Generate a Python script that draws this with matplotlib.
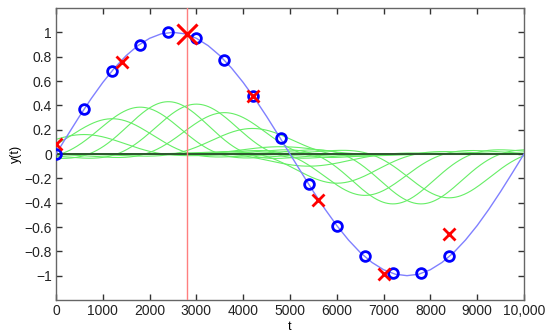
import numpy as np
import matplotlib
matplotlib.use('Agg')
import matplotlib.pyplot as plt

plt.rcParams['font.family'] = ['Liberation Sans', 'DejaVu Sans']

# smooth underlying signal, read every 250
t_curve = np.arange(0, 10001, 250)
y_curve = [0, 0.156, 0.309, 0.454, 0.588, 0.707, 0.809, 0.891, 0.951, 0.988,
           1.0, 0.988, 0.951, 0.891, 0.809, 0.707, 0.588, 0.454, 0.309, 0.156,
           0, -0.156, -0.309, -0.454, -0.588, -0.707, -0.809, -0.891, -0.951, -0.988,
           -1.0, -0.988, -0.951, -0.891, -0.809, -0.707, -0.588, -0.454, -0.309, -0.156, 0]

# blue circles
t_pts = [0, 600, 1200, 1800, 2400, 3000, 3600, 4200, 4800, 5400, 6000, 6600, 7200, 7800, 8400]
y_pts = [0, 0.37, 0.68, 0.90, 1.00, 0.95, 0.77, 0.48, 0.13, -0.25, -0.59, -0.84, -0.98, -0.98, -0.84]

# red crosses (observations)
t_obs = [0, 1400, 4200, 5600, 7000, 8400]
y_obs = [0.08, 0.76, 0.48, -0.38, -0.99, -0.66]
t_now = 2800
y_now = 0.99

# weights of the green basis functions (centred on the circles)
w_basis = [0.0, 0.16, 0.29, 0.385, 0.43, 0.41, 0.34, 0.21, 0.06,
           -0.10, -0.24, -0.34, -0.41, -0.41, -0.36]
width = 1075

fig = plt.figure(figsize=(5.5, 3.34), dpi=100)
ax = fig.add_axes([0.1018, 0.1018, 0.8509, 0.8742])

tt = np.linspace(0, 10000, 400)
for c, w in zip(t_pts, w_basis):
    x = (tt - c) / width
    ax.plot(tt, w * (1 - 0.4 * x**2) * np.exp(-x**2 / 2), color='#66ee66', linewidth=0.8, zorder=1)

ax.axhline(0, color='#2a4a2a', linewidth=1.3, zorder=2)
ax.axvline(t_now, color='#ff7f7f', linewidth=1.0, zorder=3)
ax.plot(t_curve, y_curve, color='#8080ff', linewidth=1.0, zorder=4)
ax.plot(t_pts, y_pts, 'o', markerfacecolor='none', markeredgecolor='#0000ff',
        markersize=7, markeredgewidth=2, zorder=5)
ax.plot(t_obs, y_obs, 'x', color='#ff0000', markersize=8, markeredgewidth=2, zorder=6)
ax.plot([t_now], [y_now], 'x', color='#ff0000', markersize=15, markeredgewidth=2.2, zorder=6)

ax.set_xlim(0, 10000)
ax.set_ylim(-1.2, 1.2)
ax.set_xticks(range(0, 10001, 1000))
ax.set_xticklabels(['0', '1000', '2000', '3000', '4000', '5000', '6000', '7000', '8000', '9000', '10,000'])
ax.set_yticks([-1, -0.8, -0.6, -0.4, -0.2, 0, 0.2, 0.4, 0.6, 0.8, 1])
ax.set_yticklabels(['\u22121', '\u22120.8', '\u22120.6', '\u22120.4', '\u22120.2', '0',
                    '0.2', '0.4', '0.6', '0.8', '1'])
ax.tick_params(direction='in', length=4, width=1, top=True, right=True,
               labelsize=10, colors='#333333', labelcolor='#222222', pad=3)
for s in ax.spines.values():
    s.set_color('#666666')
    s.set_linewidth(1)
ax.set_xlabel('t', fontsize=9, labelpad=2)
ax.set_ylabel('y(t)', fontsize=9, labelpad=2)

fig.savefig('out.png', dpi=100)
